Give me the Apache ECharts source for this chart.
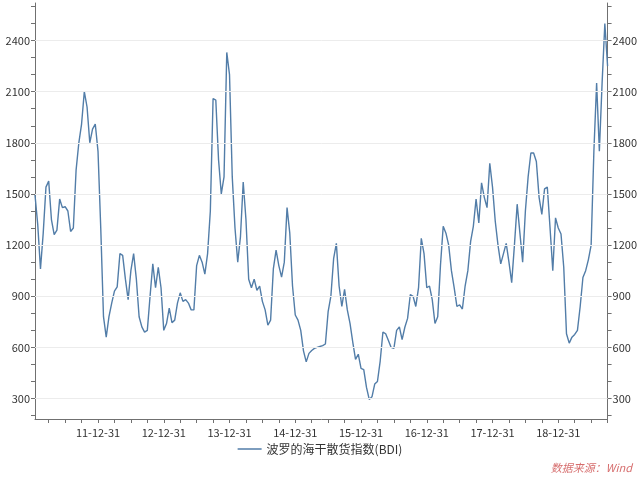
<!DOCTYPE html>
<html>
<head>
<meta charset="utf-8">
<title>BDI</title>
<script src="https://cdn.jsdelivr.net/npm/echarts@6.0.0/dist/echarts.min.js"></script>
<style>
  html, body { margin: 0; padding: 0; background: #fff; }
  #main { width: 640px; height: 477px; }
</style>
</head>
<body>
<div id="main"></div>
<script>
// 半月一个点，2011-01-15 ~ 2019-09-30
const seriesName = '波罗的海干散货指数(BDI)';
const yLabels = [300, 600, 900, 1200, 1500, 1800, 2100, 2400];
const yTicks = [200, 300, 400, 500, 600, 700, 800, 900, 1000, 1100, 1200, 1300,
  1400, 1500, 1600, 1700, 1800, 1900, 2000, 2100, 2200, 2300, 2400, 2500, 2600];

const bdi2011 = [1494, 1320, 1060, 1270, 1540, 1575, 1350, 1262, 1288, 1470, 1420, 1425,
  1400, 1280, 1300, 1640, 1800, 1910, 2100, 2010, 1800, 1880, 1910, 1750];
const bdi2012 = [1300, 780, 660, 780, 860, 930, 955, 1150, 1140, 1000, 880, 1050,
  1150, 1000, 780, 720, 690, 700, 900, 1090, 950, 1070, 950, 700];
const bdi2013 = [740, 830, 745, 760, 860, 920, 870, 880, 860, 820, 820, 1080,
  1140, 1100, 1030, 1150, 1400, 2060, 2050, 1700, 1500, 1600, 2330, 2200];
const bdi2014 = [1600, 1300, 1100, 1250, 1570, 1350, 1000, 950, 1000, 935, 960, 870,
  820, 730, 760, 1060, 1170, 1080, 1012, 1100, 1420, 1270, 960, 790];
const bdi2015 = [760, 700, 580, 515, 565, 582, 594, 600, 605, 610, 620, 810,
  900, 1120, 1210, 960, 840, 940, 820, 740, 630, 530, 560, 477];
const bdi2016 = [470, 365, 295, 310, 385, 400, 520, 690, 680, 640, 600, 594,
  700, 720, 645, 718, 770, 910, 900, 840, 950, 1240, 1150, 950];
const bdi2017 = [960, 880, 740, 780, 1080, 1310, 1270, 1200, 1050, 950, 840, 850,
  825, 960, 1050, 1220, 1310, 1470, 1330, 1565, 1480, 1420, 1680, 1540];
const bdi2018 = [1340, 1200, 1090, 1150, 1210, 1100, 980, 1200, 1440, 1270, 1100, 1400,
  1600, 1740, 1740, 1690, 1480, 1380, 1530, 1540, 1300, 1050, 1360, 1300];
const bdi2019 = [1265, 1070, 680, 625, 660, 676, 700, 840, 1010, 1050, 1115, 1200,
  1750, 2150, 1750, 2150, 2500, 2250];

const bdiValues = [].concat(bdi2011, bdi2012, bdi2013, bdi2014, bdi2015,
  bdi2016, bdi2017, bdi2018, bdi2019);

// 日期类目：每月15日和月末
function pad(n) {
  return n < 10 ? '0' + n : '' + n;
}
const dates = [];
for (let y = 2011; y <= 2019; y++) {
  for (let m = 1; m <= 12; m++) {
    if (dates.length >= bdiValues.length) break;
    const last = new Date(y, m, 0).getDate();
    const yy = String(y).slice(2);
    dates.push(yy + '-' + pad(m) + '-15');
    dates.push(yy + '-' + pad(m) + '-' + pad(last));
  }
}
dates.length = bdiValues.length;

const font = '"Noto Sans CJK SC", "Noto Sans", sans-serif';
const lineColor = '#527da8';

function isQuarterEnd(v) {
  return /-(03-31|06-30|09-30|12-31)$/.test(v);
}

function yAxisOf(pos) {
  return {
    type: 'value',
    position: pos,
    min: 180,
    max: 2620,
    axisLine: { show: true, lineStyle: { color: '#707070', width: 1 } },
    axisTick: { show: true, length: 4, customValues: yTicks, lineStyle: { color: '#707070' } },
    axisLabel: {
      customValues: yLabels,
      formatter: function (v) { return String(v); },
      color: '#333',
      fontSize: 11,
      fontFamily: font,
      margin: 5
    },
    splitLine: { show: false }
  };
}

let chart = echarts.init(document.getElementById('main'), null, { renderer: 'canvas' });

const option = {
  backgroundColor: '#fff',
  animation: false,
  grid: { left: 35, right: 32, top: 3, bottom: 58, containLabel: false },
  legend: {
    bottom: 17,
    left: 'center',
    icon: 'rect',
    itemWidth: 24,
    itemHeight: 1.5,
    itemGap: 4,
    textStyle: { color: '#333', fontSize: 12, fontFamily: font },
    data: [seriesName]
  },
  xAxis: {
    type: 'category',
    boundaryGap: false,
    data: dates,
    axisLine: { lineStyle: { color: '#707070', width: 1 } },
    axisTick: {
      length: 4,
      interval: function (idx, v) { return isQuarterEnd(v); },
      lineStyle: { color: '#707070' }
    },
    axisLabel: {
      interval: function (idx, v) { return /-12-31$/.test(v); },
      color: '#333',
      fontSize: 11,
      fontFamily: font,
      margin: 8
    },
    splitLine: { show: false }
  },
  yAxis: [yAxisOf('left'), yAxisOf('right')],
  series: [{
    name: seriesName,
    type: 'line',
    data: bdiValues,
    symbol: 'none',
    yAxisIndex: 0,
    lineStyle: { color: lineColor, width: 1.4 },
    itemStyle: { color: lineColor },
    markLine: {
      silent: true,
      symbol: 'none',
      label: { show: false },
      lineStyle: { color: '#ececec', width: 1, type: 'solid' },
      data: yLabels.map(function (v) { return { yAxis: v }; })
    },
    z: 3
  }],
  graphic: [{
    type: 'text',
    right: 8,
    bottom: 4,
    style: {
      text: '数据来源：Wind',
      fill: 'rgba(200,60,60,0.75)',
      font: 'italic 11px ' + font
    }
  }]
};

chart.setOption(option);
</script>
</body>
</html>
